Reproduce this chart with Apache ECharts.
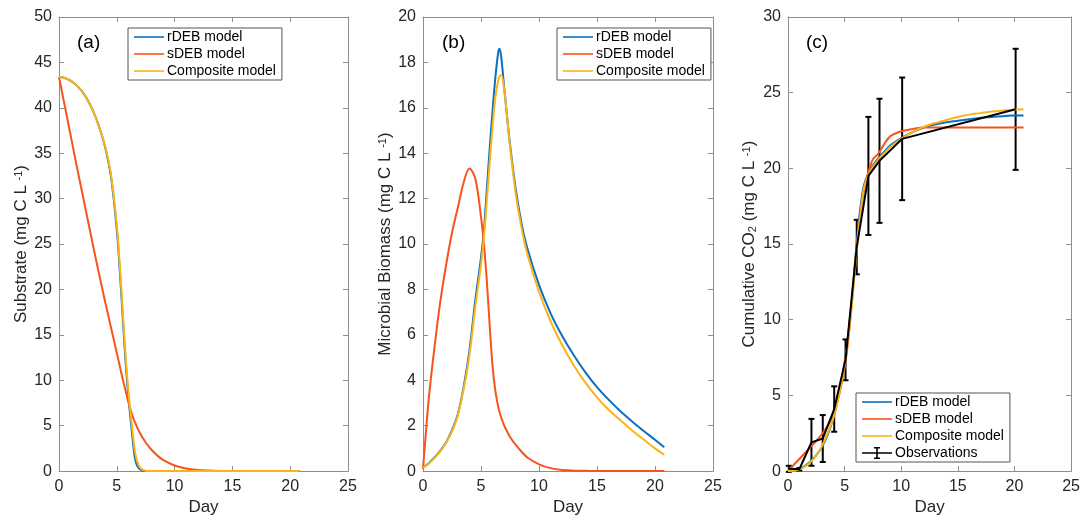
<!DOCTYPE html>
<html>
<head>
<meta charset="utf-8">
<script src="https://cdn.jsdelivr.net/npm/echarts@6/dist/echarts.min.js"></script>
<style>html,body{margin:0;padding:0;background:#fff;}#c{width:1083px;height:521px;}</style>
</head>
<body>
<div id="c"></div>
<script>
// ---------- data ----------
const days = [0,0.25,0.5,1,1.5,2,2.5,3,3.5,4,4.5,5,5.25,5.5,5.75,6,6.25,6.5,6.6,6.75,7,7.25,7.5,8,8.5,9,10,11,12,13,14,15,16,17,18,19,20,20.8];

// (a) Substrate
const subR = [43.4,43.37,43.28,43.0,42.5,41.8,40.8,39.5,37.8,35.6,32.4,26.6,22.2,17.2,12.2,8.2,5.0,2.0,1.25,0.6,0.2,0.06,0.02,0,0,0,0,0,0,0,0,0,0,0,0,0,0,0];
const subS = [43.4,41.8,40.2,37.0,33.8,30.7,27.6,24.5,21.5,18.6,15.8,13.0,11.6,10.2,8.9,7.6,6.5,5.6,5.3,4.85,4.2,3.65,3.15,2.35,1.72,1.23,0.61,0.29,0.13,0.055,0.022,0.008,0,0,0,0,0,0];
const subC = [43.4,43.37,43.28,43.0,42.5,41.8,40.8,39.5,37.8,35.7,32.6,27.1,22.8,17.9,12.9,8.8,5.7,2.8,1.95,1.1,0.4,0.13,0.04,0,0,0,0,0,0,0,0,0,0,0,0,0,0,0];

// (b) Microbial biomass
const bioR = [0.15,0.25,0.35,0.6,0.9,1.27,1.8,2.5,3.7,5.3,7.5,9.4,10.6,12.4,14.2,15.9,17.4,18.5,18.6,18.2,16.9,15.6,14.4,12.4,10.9,9.8,8.2,6.95,5.95,5.1,4.35,3.7,3.15,2.65,2.2,1.78,1.38,1.05];
const bioS = [0.1,1.7,3.2,5.5,7.5,9.1,10.5,11.6,12.7,13.33,12.9,11.2,10.0,8.4,6.4,4.6,3.5,2.8,2.6,2.35,2.0,1.75,1.5,1.15,0.85,0.6,0.3,0.13,0.05,0.02,0.01,0,0,0,0,0,0,0];
const bioC = [0.15,0.24,0.33,0.58,0.88,1.25,1.75,2.45,3.6,5.1,7.2,9.1,10.3,11.9,13.6,15.2,16.5,17.25,17.38,17.45,16.8,15.6,14.3,12.2,10.7,9.55,7.9,6.6,5.55,4.65,3.9,3.25,2.7,2.25,1.8,1.4,1.0,0.72];

// (c) Cumulative CO2
const co2R = [0,0.01,0.05,0.15,0.35,0.65,1.05,1.6,2.4,3.5,5.1,7.2,8.6,10.3,12.3,14.5,16.5,18.0,18.5,19.0,19.5,19.9,20.2,20.7,21.1,21.5,22.0,22.4,22.7,22.9,23.05,23.15,23.25,23.35,23.4,23.45,23.5,23.5];
const co2S = [0,0.2,0.4,0.8,1.2,1.6,2.0,2.45,3.0,3.8,5.0,6.8,8.2,10.0,12.1,14.3,16.1,17.6,18.1,18.7,19.5,20.1,20.6,21.0,21.6,22.1,22.45,22.6,22.7,22.7,22.7,22.7,22.7,22.7,22.7,22.7,22.7,22.7];
const co2C = [0,0.01,0.04,0.12,0.3,0.6,1.05,1.65,2.5,3.5,5.0,7.0,8.4,10.0,11.9,14.0,16.0,17.6,18.2,18.8,19.4,19.8,20.1,20.6,21.0,21.4,21.95,22.4,22.75,23.0,23.2,23.4,23.55,23.65,23.75,23.82,23.88,23.9];

const obsDays = [0.07,1.0,2.07,3.07,4.08,5.08,6.07,7.1,8.08,10.08,20.1];
const obsMean = [0.15,0.12,1.9,2.15,4.1,7.35,14.8,19.5,20.5,21.95,23.9];
const obsErr  = [0.2,0.08,1.55,1.55,1.5,1.35,1.8,3.9,4.1,4.05,4.0];

// ticks
const xTicks = [0,5,10,15,20,25];
const yTicksA = [0,5,10,15,20,25,30,35,40,45,50];
const yTicksB = [0,2,4,6,8,10,12,14,16,18,20];
const yTicksC = [0,5,10,15,20,25,30];

const seriesNames = ['rDEB model','sDEB model','Composite model','Observations'];
const panelLabels = ['(a)','(b)','(c)'];

// ---------- styling ----------
const COL = {r:'#0a70bf', s:'#f8531b', c:'#fbb418', o:'#000000'};
const FONT = 'Liberation Sans, Arial, Helvetica, sans-serif';
const AXC = '#8e8e8e';
const TXT = '#262626';

const grids = [
  {left:59, right:735, top:17, bottom:45},
  {left:423, right:370, top:17, bottom:45},
  {left:788, right:6, top:17, bottom:45}
];

function xAxisFor(i, mirror){
  return {
    type:'value', gridIndex:i, min:xTicks[0], max:xTicks[xTicks.length-1], interval:xTicks[1]-xTicks[0],
    position: mirror ? 'top' : 'bottom',
    name: mirror ? '' : 'Day', nameLocation:'middle', nameGap:25,
    nameTextStyle:{fontSize:17, color:TXT, fontFamily:FONT},
    axisLine:{show:true, onZero:false, lineStyle:{color:AXC, width:1}},
    axisTick:{show:true, inside:true, length:5, lineStyle:{color:AXC}},
    axisLabel:{show:!mirror, fontSize:16, color:TXT, fontFamily:FONT, margin:7},
    splitLine:{show:false}
  };
}
function yAxisFor(i, ticks, name, gap, mirror){
  return {
    type:'value', gridIndex:i, min:ticks[0], max:ticks[ticks.length-1], interval:ticks[1]-ticks[0],
    position: mirror ? 'right' : 'left',
    name: mirror ? '' : name, nameLocation:'middle', nameGap:gap,
    nameTextStyle:{fontSize:17, color:TXT, fontFamily:FONT,
      rich:{
        sup:{fontSize:11, color:TXT, fontFamily:FONT, verticalAlign:'top', lineHeight:10},
        sub:{fontSize:11, color:TXT, fontFamily:FONT, verticalAlign:'bottom', lineHeight:10, padding:[7,0,0,0]}
      }},
    axisLine:{show:true, onZero:false, lineStyle:{color:AXC, width:1}},
    axisTick:{show:true, inside:true, length:5, lineStyle:{color:AXC}},
    axisLabel:{show:!mirror, fontSize:16, color:TXT, fontFamily:FONT, margin:7},
    splitLine:{show:false}
  };
}

function pairs(xs, ys){ return xs.map((x,i)=>[x, ys[i]]); }
function lineSeries(name, idx, xs, ys, color){
  return {
    name, type:'line', xAxisIndex:idx, yAxisIndex:idx, data:pairs(xs, ys),
    symbol:'none', showSymbol:false, smooth:0.35,
    lineStyle:{width:2, color}, itemStyle:{color}, animation:false, clip:true
  };
}

const lineIcon = 'path://M0,0 L0,0 M0,6.2 L30,6.2 L30,7.8 L0,7.8 Z M30,14 L30,14';
const obsIcon = 'path://M0,0 L0,0 M0,6.2 L30,6.2 L30,7.8 L0,7.8 Z M14.2,1.5 L15.8,1.5 L15.8,12.5 L14.2,12.5 Z M12,1 L18,1 L18,2.6 L12,2.6 Z M12,11.4 L18,11.4 L18,13 L12,13 Z M30,14 L30,14';

function legendFor(left, top, names){
  return {
    orient:'vertical', left, top, itemGap:3, itemWidth:30, itemHeight:14,
    padding:[2,6,2,6], borderColor:'#555', borderWidth:1, backgroundColor:'#fff',
    textStyle:{fontSize:14, color:'#000', fontFamily:FONT, padding:[0,0,0,-2]},
    data: names.map(n => ({name:n, icon: n==='Observations' ? obsIcon : lineIcon})),
    selectedMode:false
  };
}

const series = [
  lineSeries(seriesNames[0], 0, days, subR, COL.r),
  lineSeries(seriesNames[1], 0, days, subS, COL.s),
  lineSeries(seriesNames[2], 0, days, subC, COL.c),
  lineSeries(seriesNames[0], 1, days, bioR, COL.r),
  lineSeries(seriesNames[1], 1, days, bioS, COL.s),
  lineSeries(seriesNames[2], 1, days, bioC, COL.c),
  lineSeries(seriesNames[0], 2, days, co2R, COL.r),
  lineSeries(seriesNames[1], 2, days, co2S, COL.s),
  lineSeries(seriesNames[2], 2, days, co2C, COL.c),
  Object.assign(lineSeries(seriesNames[3], 2, obsDays, obsMean, COL.o), {smooth:false}),
  {
    name: seriesNames[3], type:'custom', xAxisIndex:2, yAxisIndex:2, animation:false,
    data: obsDays.map((d,i)=>[d, obsMean[i]-obsErr[i], obsMean[i]+obsErr[i]]),
    encode:{x:0, y:[1,2]},
    itemStyle:{color:'#000'},
    renderItem: function(params, api){
      const x = api.value(0);
      const lo = api.coord([x, api.value(1)]);
      const hi = api.coord([x, api.value(2)]);
      const w = 3;
      const st = {stroke:'#000', lineWidth:2};
      return {type:'group', children:[
        {type:'line', shape:{x1:lo[0], y1:lo[1], x2:hi[0], y2:hi[1]}, style:st},
        {type:'line', shape:{x1:lo[0]-w, y1:lo[1], x2:lo[0]+w, y2:lo[1]}, style:st},
        {type:'line', shape:{x1:hi[0]-w, y1:hi[1], x2:hi[0]+w, y2:hi[1]}, style:st}
      ]};
    }
  }
];

const option = {
  backgroundColor:'#ffffff',
  animation:false,
  title: [
    {text:panelLabels[0], left:72, top:28, textStyle:{fontSize:19, fontWeight:'normal', color:'#000', fontFamily:FONT}},
    {text:panelLabels[1], left:437, top:28, textStyle:{fontSize:19, fontWeight:'normal', color:'#000', fontFamily:FONT}},
    {text:panelLabels[2], left:801, top:28, textStyle:{fontSize:19, fontWeight:'normal', color:'#000', fontFamily:FONT}}
  ],
  grid: grids,
  xAxis: [xAxisFor(0,false), xAxisFor(1,false), xAxisFor(2,false), xAxisFor(0,true), xAxisFor(1,true), xAxisFor(2,true)],
  yAxis: [
    yAxisFor(0, yTicksA, 'Substrate (mg C L {sup|-1})', 27, false),
    yAxisFor(1, yTicksB, 'Microbial Biomass (mg C L {sup|-1})', 25, false),
    yAxisFor(2, yTicksC, 'Cumulative CO{sub|2} (mg C L {sup|-1})', 30, false),
    yAxisFor(0, yTicksA, '', 0, true),
    yAxisFor(1, yTicksB, '', 0, true),
    yAxisFor(2, yTicksC, '', 0, true)
  ],
  legend: [
    legendFor(128, 28, seriesNames.slice(0,3)),
    legendFor(557, 28, seriesNames.slice(0,3)),
    legendFor(856, 393, seriesNames)
  ],
  series
};

const chart = echarts.init(document.getElementById('c'), null, {renderer:'canvas'});
chart.setOption(option);
</script>
</body>
</html>
